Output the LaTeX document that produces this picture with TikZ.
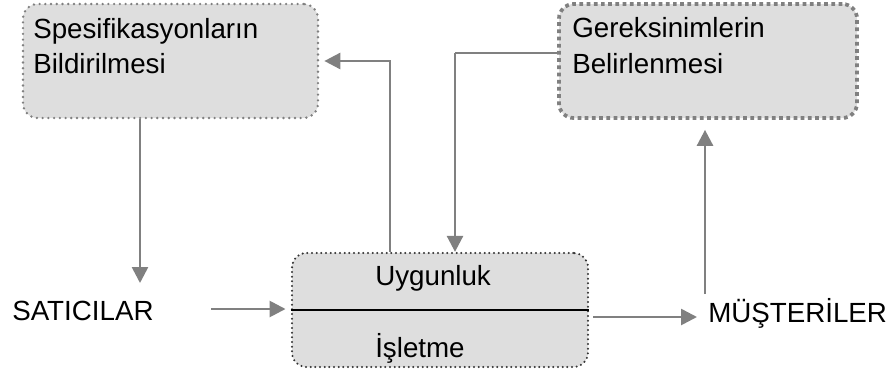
\documentclass[tikz,border=0pt]{standalone}
\usepackage{fontspec}
\setmainfont{Liberation Sans}
\usetikzlibrary{arrows.meta}

\definecolor{boxfill}{HTML}{DEDEDE}
\definecolor{linegray}{HTML}{808080}
\definecolor{dotdark}{HTML}{333333}

\tikzset{
  label/.style={inner sep=0pt, anchor=base west, font=\fontsize{20.8pt}{26pt}\selectfont},
  stagebox/.style={rectangle, rounded corners=11pt, fill=boxfill, inner sep=0pt,
    minimum height=85.5pt},
  graybox/.style={stagebox, draw=linegray, line width=2pt, line cap=round,
    dash pattern=on 0pt off 4.3pt},
  squarebox/.style={stagebox, draw=linegray, line width=2.8pt, line cap=butt,
    dash pattern=on 2.8pt off 2.6pt},
  darkbox/.style={stagebox, draw=dotdark, line width=1.7pt, line cap=round,
    dash pattern=on 0pt off 3.5pt},
  conn/.style={draw=linegray, line width=2pt,
    -{Triangle[length=12pt, width=12pt]}},
  thinconn/.style={draw=linegray, line width=1pt},
  divider/.style={draw=black, line width=1.4pt},
}

\begin{document}
\begin{tikzpicture}[x=0.75pt, y=-0.75pt]
  \useasboundingbox (0,0) rectangle (892,372);

  % stage boxes
  \node[graybox, minimum width=221.25pt] (spec) at (170.5,61) {};
  \node[squarebox, minimum width=223.5pt] (req) at (708,61) {};
  \node[darkbox, minimum width=222pt] (conf) at (440,310) {};

  % box texts
  \node[label] (specA) at (33,38) {Spesifikasyonların};
  \node[label] (specB) at (33,73) {Bildirilmesi};
  \node[label] (reqA) at (572,37) {Gereksinimlerin};
  \node[label] (reqB) at (572,73) {Belirlenmesi};
  \node[label] (confA) at (375,285) {Uygunluk};
  \node[label] (confB) at (375,357) {İşletme};

  % parties
  \node[label] (sellers) at (12,320) {SATICILAR};
  \node[label] (buyers) at (708,322) {MÜŞTERİLER};

  % divider inside the conformance box
  \draw[divider] (conf.west) -- (conf.east);

  % free ends of connectors
  \coordinate (specDown) at (140,283);
  \coordinate (backUp) at (390,60);
  \coordinate (reqTurn) at (455,53);
  \coordinate (sellIn) at (211,309);
  \coordinate (buyOut) at (593,317);
  \coordinate (buyTip) at (697,317);
  \coordinate (buyUp) at (705,294);

  % specification down to sellers
  \draw[conn] (spec.south -| specDown) -- (specDown);
  % conformance back up to specification
  \draw[conn, shorten >=3.75pt] (conf.north -| backUp) |- (spec.east);
  % requirements down to conformance
  \draw[thinconn] (req.west |- reqTurn) -- (reqTurn);
  \draw[conn] (reqTurn) -- (conf.north -| reqTurn);
  % sellers into conformance
  \draw[conn, shorten >=4pt] (sellIn) -- (conf.west |- sellIn);
  % conformance out to buyers
  \draw[conn] (buyOut) -- (buyTip);
  % buyers up to requirements
  \draw[conn, shorten >=7.5pt] (buyUp) -- (req.south -| buyUp);
\end{tikzpicture}
\end{document}
